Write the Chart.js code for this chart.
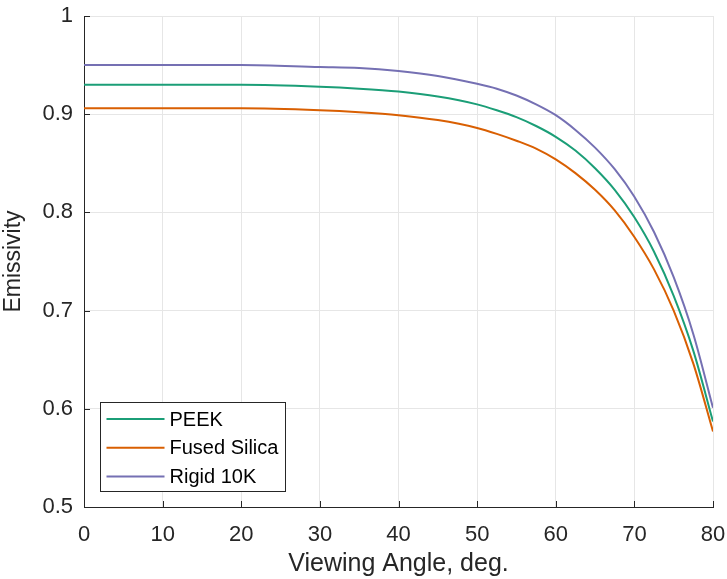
<!DOCTYPE html>
<html>
<head>
<meta charset="utf-8">
<script src="https://cdn.jsdelivr.net/npm/chart.js@4/dist/chart.umd.min.js"></script>
<style>
  html, body { margin: 0; padding: 0; background: #ffffff; }
  #wrap { width: 727px; height: 579px; position: relative; }
</style>
</head>
<body>
<div id="wrap"><canvas id="c" width="727" height="579"></canvas></div>
<script>
// ---- Data ----
const angles = [0, 10, 20, 30, 35, 40, 45, 50, 52.5, 55, 57.5, 60, 62.5, 65, 67.5, 70, 72.5, 75, 77.5, 80];
const peek = [0.930, 0.930, 0.930, 0.928, 0.926, 0.923, 0.918, 0.910, 0.904, 0.897, 0.888, 0.877, 0.863, 0.845, 0.823, 0.795, 0.760, 0.715, 0.659, 0.587];
const fusedSilica = [0.906, 0.906, 0.906, 0.904, 0.902, 0.899, 0.894, 0.886, 0.880, 0.873, 0.865, 0.854, 0.840, 0.823, 0.802, 0.775, 0.742, 0.700, 0.646, 0.577];
const rigid10k = [0.950, 0.950, 0.950, 0.948, 0.947, 0.944, 0.939, 0.931, 0.926, 0.919, 0.910, 0.899, 0.884, 0.866, 0.844, 0.816, 0.780, 0.734, 0.676, 0.601];
const seriesNames = ['PEEK', 'Fused Silica', 'Rigid 10K'];
const seriesColors = ['#1b9e77', '#d95f02', '#7570b3'];
const xTickValues = [0, 10, 20, 30, 40, 50, 60, 70, 80];
const yTickValues = [0.5, 0.6, 0.7, 0.8, 0.9, 1];
const yTickLabels = ['0.5', '0.6', '0.7', '0.8', '0.9', '1'];
const xTitle = 'Viewing Angle, deg.';
const yTitle = 'Emissivity';

const FONT = '"Liberation Sans", Arial, Helvetica, sans-serif';
const TEXT = '#262626';
const GRID = '#e6e6e6';

function toPoints(ys) { return angles.map((a, i) => ({ x: a, y: ys[i] })); }
const seriesValues = [peek, fusedSilica, rigid10k];

const datasets = seriesNames.map((name, i) => ({
  label: name,
  data: toPoints(seriesValues[i]),
  borderColor: seriesColors[i],
  backgroundColor: seriesColors[i],
  borderWidth: 2,
  pointRadius: 0,
  fill: false,
  cubicInterpolationMode: 'monotone'
}));

const innerTicks = {
  id: 'innerTicks',
  afterDatasetsDraw(chart) {
    const ctx = chart.ctx;
    const xs = chart.scales.x, ys = chart.scales.y;
    const a = chart.chartArea;
    ctx.save();
    ctx.strokeStyle = TEXT;
    ctx.lineWidth = 1;
    ctx.beginPath();
    xTickValues.forEach(v => {
      const px = Math.round(xs.getPixelForValue(v)) + 0.5;
      ctx.moveTo(px, a.bottom);
      ctx.lineTo(px, a.bottom - 6);
    });
    yTickValues.forEach(v => {
      const py = Math.round(ys.getPixelForValue(v)) + 0.5;
      ctx.moveTo(a.left, py);
      ctx.lineTo(a.left + 6, py);
    });
    ctx.stroke();
    ctx.restore();
  }
};

const boxLegend = {
  id: 'boxLegend',
  afterDraw(chart) {
    const ctx = chart.ctx;
    const a = chart.chartArea;
    ctx.save();
    ctx.font = '20px ' + FONT;
    const textW = Math.max(...seriesNames.map(n => ctx.measureText(n).width));
    const lineLen = 58, padL = 6, gap = 5, padR = 7, rowH = 28.7;
    const w = padL + lineLen + gap + textW + padR;
    const h = 89;
    const x0 = Math.round(a.left + 16) + 0.5;
    const y0 = Math.round(a.bottom - 16 - h) + 0.5;
    ctx.fillStyle = '#ffffff';
    ctx.fillRect(x0, y0, w, h);
    ctx.strokeStyle = TEXT;
    ctx.lineWidth = 1;
    ctx.strokeRect(x0, y0, Math.round(w), h);
    seriesNames.forEach((n, i) => {
      const cy = y0 + 16.5 + i * rowH;
      ctx.strokeStyle = seriesColors[i];
      ctx.lineWidth = 2;
      ctx.beginPath();
      ctx.moveTo(x0 + padL, cy);
      ctx.lineTo(x0 + padL + lineLen, cy);
      ctx.stroke();
      ctx.fillStyle = '#000000';
      ctx.textBaseline = 'middle';
      ctx.textAlign = 'left';
      ctx.fillText(n, x0 + padL + lineLen + gap, cy + 1);
    });
    ctx.restore();
  }
};

new Chart(document.getElementById('c'), {
  type: 'line',
  data: { datasets },
  options: {
    responsive: false,
    animation: false,
    devicePixelRatio: 1,
    layout: { padding: { top: 16, right: 14, left: 0, bottom: 0 } },
    plugins: { legend: { display: false }, tooltip: { enabled: false } },
    scales: {
      x: {
        type: 'linear',
        min: 0, max: 80,
        afterBuildTicks(s) { s.ticks = xTickValues.map(v => ({ value: v })); },
        afterFit(s) { s.height = 72; s.paddingLeft = 0; s.paddingRight = 0; },
        grid: { color: GRID, lineWidth: 1, drawTicks: false },
        border: { display: true, color: TEXT, width: 1 },
        ticks: {
          color: TEXT, padding: 15, maxRotation: 0,
          font: { family: FONT, size: 22 },
          callback: v => String(v)
        },
        title: {
          display: true, text: xTitle, color: TEXT, padding: { top: 0, bottom: 0 },
          font: { family: FONT, size: 25 }
        }
      },
      y: {
        type: 'linear',
        min: 0.5, max: 1,
        afterBuildTicks(s) { s.ticks = yTickValues.map(v => ({ value: v })); },
        afterFit(s) { s.width = 84; s.paddingTop = 0; s.paddingBottom = 0; },
        grid: { color: GRID, lineWidth: 1, drawTicks: false },
        border: { display: true, color: TEXT, width: 1 },
        ticks: {
          color: TEXT, padding: 11,
          font: { family: FONT, size: 22 },
          callback: (v) => {
            const i = yTickValues.findIndex(t => Math.abs(t - v) < 1e-9);
            return i >= 0 ? yTickLabels[i] : '';
          }
        },
        title: {
          display: true, text: yTitle, color: TEXT, padding: { top: 0, bottom: 2 },
          font: { family: FONT, size: 23 }
        }
      }
    }
  },
  plugins: [innerTicks, boxLegend]
});
</script>
</body>
</html>
